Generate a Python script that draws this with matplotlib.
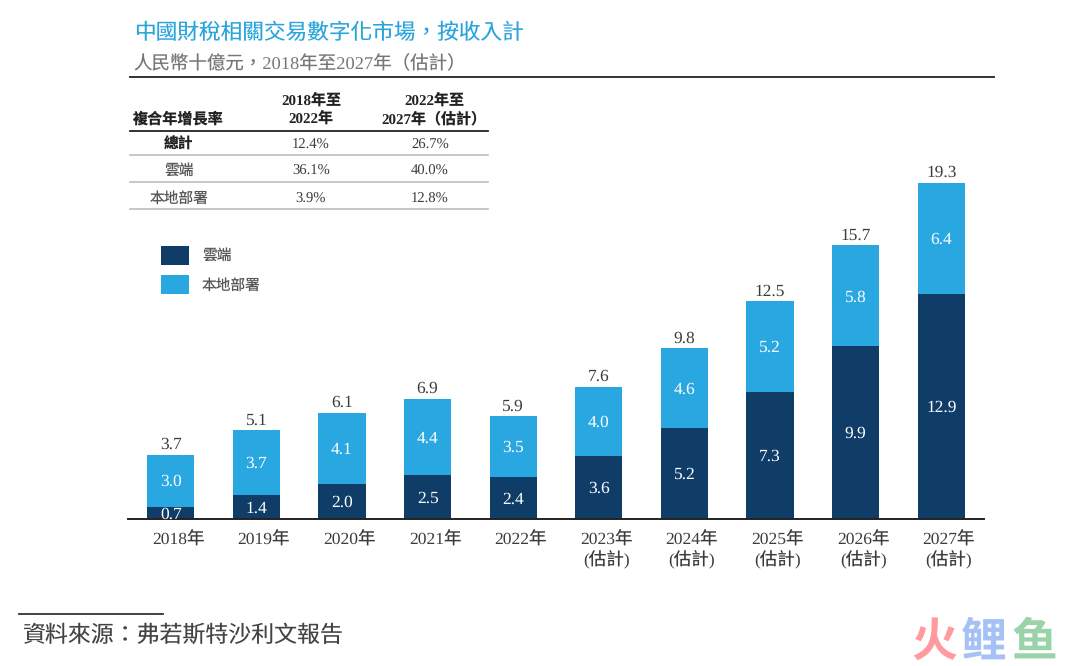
import matplotlib
matplotlib.use('Agg')
import matplotlib.pyplot as plt
from matplotlib.transforms import ScaledTranslation
import numpy as np

plt.rcParams['font.family'] = ['Liberation Serif', 'Noto Sans CJK TC']
plt.rcParams['text.hinting'] = 'none'

years = ['2018年', '2019年', '2020年', '2021年', '2022年',
         '2023年\n(估計)', '2024年\n(估計)', '2025年\n(估計)', '2026年\n(估計)', '2027年\n(估計)']
cloud = [0.7, 1.4, 2.0, 2.5, 2.4, 3.6, 5.2, 7.3, 9.9, 12.9]
onprem = [3.0, 3.7, 4.1, 4.4, 3.5, 4.0, 4.6, 5.2, 5.8, 6.4]
totals = [3.7, 5.1, 6.1, 6.9, 5.9, 7.6, 9.8, 12.5, 15.7, 19.3]

table_head = ['複合年增長率', '2018年至\n2022年', '2022年至\n2027年（估計）']
table_rows = ['總計', '雲端', '本地部署']
cagr_a = ['12.4%', '36.1%', '3.9%']
cagr_b = ['26.7%', '40.0%', '12.8%']

title = '中國財稅相關交易數字化市場，按收入計'
subtitle = '人民幣十億元，2018年至2027年（估計）'
source = '資料來源：弗若斯特沙利文報告'

DARK = '#0F3D68'
LIGHT = '#29A7E1'
TEXT = '#3c3c3c'

fig = plt.figure(figsize=(10.8, 6.66), dpi=100)

# page layer in pixel coordinates, for title, table, legend and footer
page = fig.add_axes([0, 0, 1, 1])
page.set_xlim(0, 1080)
page.set_ylim(666, 0)
page.axis('off')

page.text(134, 33.5, title, fontsize=15.6, color='#2AA5DC', va='center')
page.text(133, 63.5, subtitle, fontsize=13.3, color='#777777', va='center')
page.plot([130, 994], [77, 77], color='#333333', lw=1.4)

# CAGR table
page.text(133, 119, table_head[0], fontsize=10.9, fontweight='bold', color='#222222', va='center')
page.text(311, 110, table_head[1], fontsize=10.8, fontweight='bold', color='#222222', ha='center', va='center', linespacing=1.3)
page.text(434, 110, table_head[2], fontsize=10.8, fontweight='bold', color='#222222', ha='center', va='center', linespacing=1.3)
page.plot([130, 488], [131, 131], color='#222222', lw=1.3)
row_y = [145, 171, 199]
rule_y = [155, 182, 209]
for i, name in enumerate(table_rows):
    page.text(179, row_y[i], name, fontsize=10.6, color='#222222' if i == 0 else '#555555',
              fontweight='bold' if i == 0 else 'normal', ha='center', va='center')
    page.text(311, row_y[i], cagr_a[i], fontsize=10.5, color=TEXT, ha='center', va='center')
    page.text(430, row_y[i], cagr_b[i], fontsize=10.5, color=TEXT, ha='center', va='center')
    page.plot([130, 488], [rule_y[i], rule_y[i]], color='#bdbdbd', lw=1.2)

# chart
ax = fig.add_axes([128 / 1080, (666 - 519) / 666, (984 - 128) / 1080, (519 - 160) / 666])
ax.patch.set_alpha(0)
x = np.arange(len(years))
ax.bar(x, cloud, width=0.55, color=DARK)
ax.bar(x, onprem, width=0.55, bottom=cloud, color=LIGHT)
ax.set_xlim(-0.5, 9.5)
ax.set_ylim(0, 20.6)
ax.set_yticks([])
ax.set_xticks(x)
ax.set_xticklabels(years, fontsize=12.6, color=TEXT, linespacing=1.2, va='top')
ax.tick_params(axis='x', length=0, pad=9)
# the year labels sit a little right of the bars in the original
shift = ScaledTranslation(7.5 / 100, 0, fig.dpi_scale_trans)
for lab in ax.get_xticklabels():
    lab.set_transform(lab.get_transform() + shift)
for s in ['top', 'left', 'right']:
    ax.spines[s].set_visible(False)
ax.spines['bottom'].set_color('#222222')
ax.spines['bottom'].set_linewidth(1.4)

for i in range(len(years)):
    ax.annotate(f'{cloud[i]:.1f}', (x[i], cloud[i] / 2), xytext=(0, -1), textcoords='offset points',
                color='white', fontsize=12.5, ha='center', va='center')
    ax.annotate(f'{onprem[i]:.1f}', (x[i], cloud[i] + onprem[i] / 2), xytext=(0, -1), textcoords='offset points',
                color='white', fontsize=12.5, ha='center', va='center')
    ax.text(x[i], totals[i] + 0.12, f'{totals[i]:.1f}', color=TEXT, fontsize=12.5, ha='center', va='bottom')

# legend
page.bar([175, 175], [19, 19], width=28, bottom=[246, 275], color=[DARK, LIGHT])
page.text(202, 256, '雲端', fontsize=10.6, color='#555555', va='center')
page.text(202, 286, '本地部署', fontsize=10.6, color='#555555', va='center')

# footer
page.plot([19, 163], [614, 614], color='#333333', lw=1.3)
page.text(22, 636, source, fontsize=16.5, color='#444444', va='center')

# watermark
for ch, px, col in zip('火鲤鱼', [934, 983, 1034], ['#FF9A9E', '#A6C1F5', '#9AD3A8']):
    page.text(px, 642, ch, fontsize=33, fontweight='bold', color=col, ha='center', va='center',
              family=['Noto Sans CJK SC', 'DejaVu Sans'])

fig.savefig('out.png', dpi=100)
